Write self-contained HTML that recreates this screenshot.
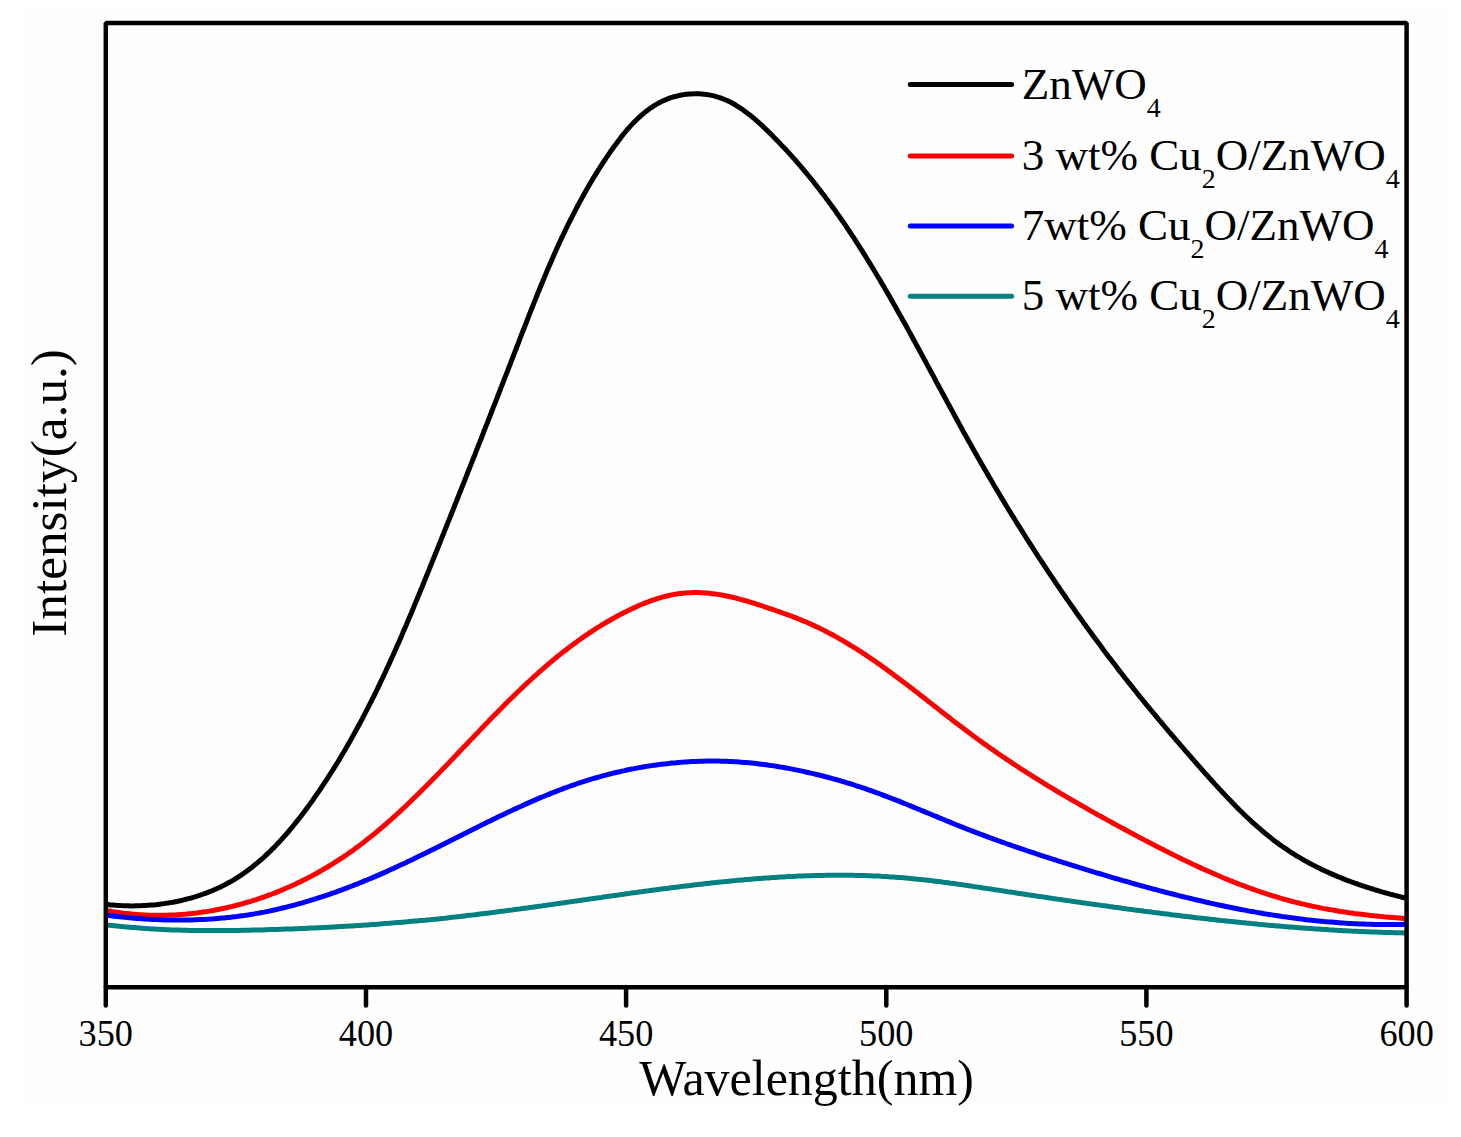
<!DOCTYPE html>
<html><head><meta charset="utf-8"><style>
html,body{margin:0;padding:0;background:#ffffff;}
svg{display:block;}
text{font-family:"Liberation Serif",serif;fill:#000;white-space:pre;}
</style></head><body>
<svg width="1461" height="1137" viewBox="0 0 1461 1137">
<rect x="26" y="8" width="1422" height="1100" fill="#fefefe"/>
<path d="M105.8,904.4 L108.1,904.6 L110.6,904.9 L113.1,905.1 L115.6,905.3 L118.1,905.4 L120.6,905.6 L123.1,905.7 L125.6,905.8 L128.1,905.8 L130.6,905.9 L133.1,905.9 L135.6,905.8 L138.1,905.8 L140.6,905.7 L143.1,905.6 L145.6,905.5 L148.1,905.3 L150.6,905.1 L153.1,904.9 L155.6,904.7 L158.1,904.4 L160.6,904.1 L163.1,903.8 L165.5,903.4 L168.0,903.0 L170.5,902.6 L173.0,902.2 L175.4,901.7 L177.9,901.2 L180.3,900.7 L182.8,900.1 L185.2,899.5 L187.6,898.9 L190.0,898.3 L192.5,897.6 L194.9,896.9 L197.2,896.1 L199.6,895.4 L202.0,894.5 L204.4,893.7 L206.7,892.8 L209.0,891.9 L211.4,891.0 L213.7,890.0 L216.0,889.0 L218.3,888.0 L220.5,886.9 L222.8,885.8 L225.0,884.7 L227.2,883.5 L229.4,882.3 L231.6,881.1 L233.7,879.8 L235.9,878.5 L238.0,877.1 L240.1,875.8 L242.2,874.4 L244.2,873.0 L246.3,871.5 L248.3,870.0 L250.3,868.5 L252.3,867.0 L254.2,865.4 L256.2,863.8 L258.1,862.2 L260.0,860.6 L261.9,859.0 L263.8,857.3 L265.6,855.6 L267.4,853.9 L269.2,852.2 L271.0,850.4 L272.8,848.6 L274.6,846.9 L276.3,845.1 L278.0,843.2 L279.8,841.4 L281.4,839.6 L283.1,837.7 L284.8,835.8 L286.4,834.0 L288.1,832.1 L289.7,830.1 L291.3,828.2 L292.9,826.3 L294.5,824.3 L296.0,822.4 L297.6,820.4 L299.1,818.5 L300.7,816.5 L302.2,814.5 L303.7,812.5 L305.2,810.5 L306.7,808.5 L308.2,806.5 L309.7,804.4 L311.1,802.4 L312.6,800.4 L314.0,798.3 L315.5,796.3 L316.9,794.2 L318.3,792.1 L319.7,790.1 L321.1,788.0 L322.5,785.9 L323.9,783.8 L325.3,781.7 L326.7,779.6 L328.0,777.5 L329.4,775.4 L330.7,773.3 L332.1,771.2 L333.4,769.1 L334.7,767.0 L336.1,764.8 L337.4,762.7 L338.7,760.6 L340.0,758.4 L341.2,756.3 L342.5,754.1 L343.8,752.0 L345.1,749.8 L346.3,747.6 L347.6,745.5 L348.8,743.3 L350.1,741.1 L351.3,738.9 L352.5,736.7 L353.7,734.6 L354.9,732.4 L356.1,730.2 L357.3,728.0 L358.5,725.8 L359.7,723.6 L360.9,721.3 L362.1,719.1 L363.2,716.9 L364.4,714.7 L365.5,712.5 L366.7,710.2 L367.8,708.0 L369.0,705.8 L370.1,703.5 L371.2,701.3 L372.3,699.1 L373.5,696.8 L374.6,694.6 L375.7,692.3 L376.8,690.1 L377.9,687.8 L378.9,685.6 L380.0,683.3 L381.1,681.0 L382.2,678.8 L383.2,676.5 L384.3,674.3 L385.4,672.0 L386.4,669.7 L387.5,667.4 L388.5,665.2 L389.6,662.9 L390.6,660.6 L391.6,658.3 L392.7,656.0 L393.7,653.7 L394.7,651.5 L395.7,649.2 L396.7,646.9 L397.7,644.6 L398.8,642.3 L399.8,640.0 L400.8,637.7 L401.8,635.4 L402.7,633.1 L403.7,630.8 L404.7,628.5 L405.7,626.2 L406.7,623.9 L407.7,621.6 L408.6,619.3 L409.6,617.0 L410.6,614.7 L411.6,612.4 L412.5,610.0 L413.5,607.7 L414.4,605.4 L415.4,603.1 L416.4,600.8 L417.3,598.5 L418.3,596.2 L419.2,593.8 L420.2,591.5 L421.1,589.2 L422.1,586.9 L423.0,584.6 L424.0,582.2 L424.9,579.9 L425.8,577.6 L426.8,575.3 L427.7,573.0 L428.7,570.6 L429.6,568.3 L430.5,566.0 L431.5,563.7 L432.4,561.3 L433.3,559.0 L434.3,556.7 L435.2,554.4 L436.1,552.1 L437.1,549.7 L438.0,547.4 L438.9,545.1 L439.9,542.8 L440.8,540.4 L441.7,538.1 L442.7,535.8 L443.6,533.4 L444.5,531.1 L445.5,528.8 L446.4,526.5 L447.3,524.1 L448.2,521.8 L449.2,519.5 L450.1,517.2 L451.0,514.8 L451.9,512.5 L452.9,510.2 L453.8,507.9 L454.7,505.5 L455.6,503.2 L456.6,500.9 L457.5,498.5 L458.4,496.2 L459.3,493.9 L460.3,491.6 L461.2,489.2 L462.1,486.9 L463.0,484.6 L464.0,482.2 L464.9,479.9 L465.8,477.6 L466.7,475.3 L467.6,472.9 L468.5,470.6 L469.5,468.3 L470.4,465.9 L471.3,463.6 L472.2,461.3 L473.1,458.9 L474.1,456.6 L475.0,454.3 L475.9,451.9 L476.8,449.6 L477.7,447.3 L478.6,445.0 L479.6,442.6 L480.5,440.3 L481.4,438.0 L482.3,435.6 L483.2,433.3 L484.1,431.0 L485.0,428.6 L485.9,426.3 L486.9,424.0 L487.8,421.6 L488.7,419.3 L489.6,417.0 L490.5,414.6 L491.4,412.3 L492.3,410.0 L493.2,407.6 L494.1,405.3 L495.1,403.0 L496.0,400.6 L496.9,398.3 L497.8,396.0 L498.7,393.6 L499.6,391.3 L500.5,389.0 L501.4,386.6 L502.3,384.3 L503.2,382.0 L504.1,379.6 L505.0,377.3 L506.0,374.9 L506.9,372.6 L507.8,370.3 L508.7,367.9 L509.6,365.6 L510.5,363.3 L511.4,360.9 L512.3,358.6 L513.2,356.3 L514.1,353.9 L515.0,351.6 L515.9,349.3 L516.8,346.9 L517.7,344.6 L518.6,342.3 L519.5,339.9 L520.4,337.6 L521.3,335.2 L522.2,332.9 L523.1,330.6 L524.1,328.2 L525.0,325.9 L525.9,323.6 L526.8,321.2 L527.7,318.9 L528.6,316.6 L529.5,314.2 L530.4,311.9 L531.3,309.6 L532.3,307.2 L533.2,304.9 L534.1,302.6 L535.0,300.3 L536.0,297.9 L536.9,295.6 L537.8,293.3 L538.8,291.0 L539.7,288.6 L540.7,286.3 L541.6,284.0 L542.6,281.7 L543.5,279.4 L544.5,277.1 L545.5,274.7 L546.4,272.4 L547.4,270.1 L548.4,267.8 L549.4,265.5 L550.4,263.2 L551.4,260.9 L552.4,258.6 L553.4,256.3 L554.4,254.0 L555.4,251.8 L556.4,249.5 L557.4,247.2 L558.5,244.9 L559.5,242.6 L560.6,240.4 L561.6,238.1 L562.7,235.8 L563.8,233.6 L564.9,231.3 L565.9,229.0 L567.0,226.8 L568.1,224.5 L569.2,222.3 L570.4,220.0 L571.5,217.8 L572.6,215.6 L573.8,213.3 L574.9,211.1 L576.1,208.9 L577.2,206.7 L578.4,204.5 L579.6,202.3 L580.8,200.1 L582.0,197.9 L583.2,195.7 L584.4,193.5 L585.7,191.3 L586.9,189.1 L588.1,187.0 L589.4,184.8 L590.7,182.6 L592.0,180.5 L593.2,178.3 L594.5,176.2 L595.8,174.1 L597.2,171.9 L598.5,169.8 L599.8,167.7 L601.2,165.6 L602.5,163.5 L603.9,161.4 L605.3,159.3 L606.7,157.2 L608.1,155.1 L609.5,153.1 L610.9,151.0 L612.4,149.0 L613.8,146.9 L615.3,144.9 L616.8,142.9 L618.3,140.9 L619.8,138.9 L621.3,136.9 L622.9,134.9 L624.5,133.0 L626.1,131.0 L627.7,129.1 L629.3,127.3 L631.0,125.4 L632.7,123.6 L634.5,121.8 L636.3,120.0 L638.1,118.3 L639.9,116.6 L641.8,114.9 L643.7,113.3 L645.6,111.7 L647.6,110.2 L649.6,108.7 L651.7,107.3 L653.8,105.9 L655.9,104.6 L658.1,103.4 L660.3,102.2 L662.6,101.1 L664.8,100.1 L667.2,99.1 L669.5,98.2 L671.9,97.4 L674.3,96.7 L676.7,96.1 L679.1,95.5 L681.6,95.0 L684.1,94.6 L686.6,94.3 L689.0,94.0 L691.5,93.9 L694.1,93.8 L696.6,93.8 L699.1,93.8 L701.6,94.0 L704.1,94.2 L706.5,94.5 L709.0,94.9 L711.5,95.4 L713.9,95.9 L716.3,96.6 L718.7,97.3 L721.1,98.1 L723.4,99.0 L725.8,100.0 L728.0,101.0 L730.3,102.1 L732.5,103.3 L734.7,104.5 L736.8,105.8 L738.9,107.1 L741.0,108.5 L743.1,109.9 L745.1,111.4 L747.1,112.9 L749.1,114.4 L751.1,116.0 L753.0,117.6 L754.9,119.2 L756.8,120.9 L758.7,122.5 L760.5,124.2 L762.4,125.9 L764.2,127.6 L766.0,129.4 L767.8,131.1 L769.6,132.9 L771.4,134.6 L773.1,136.4 L774.9,138.2 L776.6,140.0 L778.4,141.8 L780.1,143.6 L781.8,145.4 L783.6,147.2 L785.3,149.0 L787.0,150.9 L788.7,152.7 L790.4,154.6 L792.0,156.4 L793.7,158.3 L795.4,160.2 L797.0,162.1 L798.7,164.0 L800.3,165.9 L801.9,167.8 L803.5,169.7 L805.1,171.6 L806.7,173.5 L808.3,175.5 L809.9,177.4 L811.5,179.3 L813.1,181.3 L814.6,183.3 L816.2,185.2 L817.7,187.2 L819.3,189.2 L820.8,191.2 L822.3,193.2 L823.8,195.1 L825.3,197.1 L826.8,199.2 L828.3,201.2 L829.8,203.2 L831.3,205.2 L832.7,207.2 L834.2,209.3 L835.7,211.3 L837.1,213.4 L838.6,215.4 L840.0,217.5 L841.4,219.5 L842.8,221.6 L844.3,223.6 L845.7,225.7 L847.1,227.8 L848.5,229.9 L849.9,232.0 L851.2,234.0 L852.6,236.1 L854.0,238.2 L855.4,240.3 L856.7,242.4 L858.1,244.5 L859.4,246.6 L860.8,248.8 L862.1,250.9 L863.4,253.0 L864.8,255.1 L866.1,257.2 L867.4,259.4 L868.7,261.5 L870.0,263.6 L871.3,265.8 L872.6,267.9 L873.9,270.1 L875.2,272.2 L876.5,274.4 L877.8,276.5 L879.1,278.7 L880.4,280.8 L881.6,283.0 L882.9,285.1 L884.2,287.3 L885.4,289.5 L886.7,291.6 L887.9,293.8 L889.2,296.0 L890.4,298.1 L891.7,300.3 L892.9,302.5 L894.2,304.7 L895.4,306.8 L896.6,309.0 L897.8,311.2 L899.1,313.4 L900.3,315.6 L901.5,317.8 L902.7,320.0 L904.0,322.1 L905.2,324.3 L906.4,326.5 L907.6,328.7 L908.8,330.9 L910.0,333.1 L911.2,335.3 L912.4,337.5 L913.6,339.7 L914.8,341.9 L916.0,344.1 L917.2,346.3 L918.4,348.5 L919.6,350.7 L920.8,352.9 L922.0,355.1 L923.2,357.3 L924.4,359.5 L925.6,361.7 L926.7,363.9 L927.9,366.1 L929.1,368.3 L930.3,370.5 L931.5,372.7 L932.7,374.9 L933.9,377.2 L935.1,379.4 L936.2,381.6 L937.4,383.8 L938.6,386.0 L939.8,388.2 L941.0,390.4 L942.2,392.6 L943.4,394.8 L944.6,397.0 L945.8,399.2 L946.9,401.4 L948.1,403.6 L949.3,405.8 L950.5,408.0 L951.7,410.2 L952.9,412.4 L954.1,414.6 L955.3,416.8 L956.5,419.0 L957.7,421.2 L958.9,423.4 L960.1,425.6 L961.3,427.8 L962.5,430.0 L963.7,432.2 L965.0,434.4 L966.2,436.6 L967.4,438.8 L968.6,440.9 L969.8,443.1 L971.1,445.3 L972.3,447.5 L973.5,449.7 L974.7,451.9 L976.0,454.0 L977.2,456.2 L978.5,458.4 L979.7,460.6 L980.9,462.7 L982.2,464.9 L983.4,467.1 L984.7,469.3 L986.0,471.4 L987.2,473.6 L988.5,475.8 L989.7,477.9 L991.0,480.1 L992.3,482.2 L993.5,484.4 L994.8,486.6 L996.1,488.7 L997.4,490.9 L998.7,493.0 L1000.0,495.2 L1001.2,497.3 L1002.5,499.5 L1003.8,501.6 L1005.1,503.7 L1006.4,505.9 L1007.7,508.0 L1009.0,510.2 L1010.3,512.3 L1011.6,514.4 L1013.0,516.6 L1014.3,518.7 L1015.6,520.8 L1016.9,523.0 L1018.2,525.1 L1019.6,527.2 L1020.9,529.3 L1022.2,531.4 L1023.6,533.6 L1024.9,535.7 L1026.2,537.8 L1027.6,539.9 L1028.9,542.0 L1030.3,544.1 L1031.6,546.2 L1033.0,548.3 L1034.4,550.5 L1035.7,552.6 L1037.1,554.7 L1038.4,556.8 L1039.8,558.9 L1041.2,560.9 L1042.6,563.0 L1043.9,565.1 L1045.3,567.2 L1046.7,569.3 L1048.1,571.4 L1049.5,573.5 L1050.9,575.6 L1052.3,577.6 L1053.7,579.7 L1055.1,581.8 L1056.5,583.9 L1057.9,585.9 L1059.3,588.0 L1060.7,590.1 L1062.1,592.1 L1063.5,594.2 L1065.0,596.3 L1066.4,598.3 L1067.8,600.4 L1069.2,602.4 L1070.7,604.5 L1072.1,606.6 L1073.6,608.6 L1075.0,610.7 L1076.4,612.7 L1077.9,614.7 L1079.3,616.8 L1080.8,618.8 L1082.3,620.9 L1083.7,622.9 L1085.2,624.9 L1086.6,627.0 L1088.1,629.0 L1089.6,631.0 L1091.1,633.0 L1092.5,635.1 L1094.0,637.1 L1095.5,639.1 L1097.0,641.1 L1098.5,643.1 L1100.0,645.1 L1101.5,647.1 L1103.0,649.2 L1104.5,651.2 L1106.0,653.2 L1107.5,655.2 L1109.0,657.2 L1110.5,659.1 L1112.0,661.1 L1113.6,663.1 L1115.1,665.1 L1116.6,667.1 L1118.1,669.1 L1119.7,671.1 L1121.2,673.0 L1122.8,675.0 L1124.3,677.0 L1125.8,679.0 L1127.4,680.9 L1128.9,682.9 L1130.5,684.9 L1132.1,686.8 L1133.6,688.8 L1135.2,690.7 L1136.8,692.7 L1138.3,694.6 L1139.9,696.6 L1141.5,698.5 L1143.1,700.5 L1144.6,702.4 L1146.2,704.4 L1147.8,706.3 L1149.4,708.2 L1151.0,710.2 L1152.6,712.1 L1154.2,714.0 L1155.8,715.9 L1157.4,717.9 L1159.0,719.8 L1160.6,721.7 L1162.2,723.6 L1163.8,725.5 L1165.5,727.5 L1167.1,729.4 L1168.7,731.3 L1170.3,733.2 L1171.9,735.1 L1173.6,737.0 L1175.2,738.9 L1176.8,740.8 L1178.5,742.7 L1180.1,744.6 L1181.7,746.5 L1183.4,748.4 L1185.0,750.3 L1186.7,752.2 L1188.3,754.1 L1190.0,755.9 L1191.6,757.8 L1193.2,759.7 L1194.9,761.6 L1196.6,763.5 L1198.2,765.4 L1199.9,767.2 L1201.5,769.1 L1203.2,771.0 L1204.8,772.9 L1206.5,774.7 L1208.2,776.6 L1209.8,778.5 L1211.5,780.3 L1213.2,782.2 L1214.9,784.1 L1216.6,785.9 L1218.3,787.8 L1220.0,789.6 L1221.7,791.4 L1223.4,793.3 L1225.1,795.1 L1226.8,796.9 L1228.5,798.7 L1230.3,800.5 L1232.0,802.3 L1233.7,804.1 L1235.5,805.9 L1237.3,807.7 L1239.0,809.5 L1240.8,811.2 L1242.6,813.0 L1244.4,814.7 L1246.2,816.5 L1248.0,818.2 L1249.9,819.9 L1251.7,821.6 L1253.6,823.3 L1255.4,824.9 L1257.3,826.6 L1259.2,828.2 L1261.1,829.9 L1263.0,831.5 L1264.9,833.1 L1266.9,834.7 L1268.8,836.3 L1270.8,837.8 L1272.7,839.4 L1274.7,840.9 L1276.7,842.4 L1278.8,843.9 L1280.8,845.4 L1282.8,846.8 L1284.9,848.2 L1287.0,849.6 L1289.0,851.0 L1291.1,852.4 L1293.2,853.7 L1295.4,855.1 L1297.5,856.4 L1299.7,857.7 L1301.8,858.9 L1304.0,860.2 L1306.2,861.4 L1308.4,862.6 L1310.6,863.8 L1312.8,864.9 L1315.0,866.1 L1317.3,867.2 L1319.5,868.3 L1321.8,869.4 L1324.0,870.5 L1326.3,871.5 L1328.6,872.6 L1330.9,873.6 L1333.2,874.6 L1335.5,875.6 L1337.8,876.6 L1340.1,877.5 L1342.4,878.4 L1344.7,879.4 L1347.1,880.3 L1349.4,881.2 L1351.8,882.0 L1354.1,882.9 L1356.5,883.7 L1358.9,884.6 L1361.2,885.4 L1363.6,886.2 L1366.0,887.0 L1368.4,887.7 L1370.7,888.5 L1373.1,889.2 L1375.5,890.0 L1377.9,890.7 L1380.3,891.4 L1382.7,892.1 L1385.2,892.8 L1387.6,893.4 L1390.0,894.1 L1392.4,894.7 L1394.8,895.4 L1397.3,896.0 L1399.7,896.6 L1402.1,897.2 L1404.6,897.8 L1406.6,898.3" fill="none" stroke="#000000" stroke-width="5.0" stroke-linejoin="round" stroke-linecap="butt"/>
<path d="M105.8,910.4 L107.0,910.6 L109.5,911.0 L112.0,911.5 L114.5,911.9 L116.9,912.3 L119.4,912.6 L121.9,912.9 L124.4,913.3 L126.9,913.5 L129.4,913.8 L131.9,914.1 L134.4,914.3 L136.9,914.5 L139.4,914.7 L141.9,914.8 L144.4,915.0 L146.9,915.1 L149.4,915.2 L151.9,915.2 L154.4,915.3 L156.9,915.3 L159.4,915.3 L161.9,915.3 L164.4,915.2 L166.9,915.2 L169.4,915.1 L171.9,915.0 L174.4,914.9 L176.9,914.7 L179.4,914.6 L181.9,914.4 L184.4,914.2 L186.9,914.0 L189.4,913.7 L191.9,913.5 L194.4,913.2 L196.9,912.9 L199.4,912.5 L201.9,912.2 L204.3,911.8 L206.8,911.5 L209.3,911.1 L211.8,910.6 L214.2,910.2 L216.7,909.7 L219.2,909.2 L221.6,908.7 L224.1,908.2 L226.5,907.7 L229.0,907.1 L231.4,906.6 L233.8,906.0 L236.3,905.3 L238.7,904.7 L241.1,904.1 L243.5,903.4 L245.9,902.7 L248.3,902.0 L250.7,901.3 L253.1,900.5 L255.5,899.8 L257.9,899.0 L260.3,898.2 L262.7,897.4 L265.0,896.6 L267.4,895.7 L269.7,894.8 L272.1,894.0 L274.4,893.1 L276.8,892.1 L279.1,891.2 L281.4,890.2 L283.7,889.3 L286.0,888.3 L288.3,887.3 L290.6,886.3 L292.9,885.2 L295.2,884.2 L297.4,883.1 L299.7,882.0 L301.9,880.9 L304.2,879.8 L306.4,878.7 L308.6,877.5 L310.9,876.4 L313.1,875.2 L315.3,874.0 L317.5,872.8 L319.7,871.5 L321.8,870.3 L324.0,869.0 L326.2,867.8 L328.3,866.5 L330.5,865.2 L332.6,863.9 L334.7,862.5 L336.8,861.2 L338.9,859.8 L341.0,858.5 L343.1,857.1 L345.2,855.7 L347.3,854.2 L349.3,852.8 L351.4,851.4 L353.4,849.9 L355.4,848.4 L357.5,846.9 L359.5,845.5 L361.5,843.9 L363.5,842.4 L365.4,840.9 L367.4,839.3 L369.4,837.8 L371.3,836.2 L373.3,834.6 L375.2,833.1 L377.2,831.5 L379.1,829.9 L381.0,828.2 L382.9,826.6 L384.8,825.0 L386.7,823.3 L388.6,821.7 L390.5,820.0 L392.3,818.4 L394.2,816.7 L396.1,815.0 L397.9,813.3 L399.8,811.6 L401.6,809.9 L403.4,808.2 L405.3,806.5 L407.1,804.8 L408.9,803.0 L410.7,801.3 L412.5,799.6 L414.3,797.8 L416.1,796.1 L417.9,794.3 L419.7,792.6 L421.5,790.8 L423.2,789.0 L425.0,787.2 L426.8,785.5 L428.5,783.7 L430.3,781.9 L432.1,780.1 L433.8,778.3 L435.6,776.5 L437.3,774.7 L439.1,772.9 L440.8,771.1 L442.5,769.3 L444.3,767.5 L446.0,765.7 L447.8,763.9 L449.5,762.1 L451.2,760.3 L453.0,758.5 L454.7,756.7 L456.4,754.9 L458.1,753.0 L459.9,751.2 L461.6,749.4 L463.3,747.6 L465.1,745.8 L466.8,744.0 L468.5,742.1 L470.2,740.3 L472.0,738.5 L473.7,736.7 L475.4,734.9 L477.2,733.1 L478.9,731.3 L480.6,729.4 L482.4,727.6 L484.1,725.8 L485.8,724.0 L487.6,722.2 L489.3,720.4 L491.1,718.6 L492.8,716.8 L494.6,715.0 L496.3,713.2 L498.1,711.5 L499.8,709.7 L501.6,707.9 L503.4,706.1 L505.1,704.3 L506.9,702.6 L508.7,700.8 L510.5,699.0 L512.3,697.3 L514.1,695.5 L515.9,693.8 L517.7,692.0 L519.5,690.3 L521.3,688.6 L523.1,686.9 L524.9,685.1 L526.8,683.4 L528.6,681.7 L530.4,680.0 L532.3,678.3 L534.1,676.6 L536.0,675.0 L537.9,673.3 L539.7,671.6 L541.6,670.0 L543.5,668.3 L545.4,666.7 L547.3,665.0 L549.2,663.4 L551.1,661.8 L553.1,660.2 L555.0,658.6 L556.9,657.0 L558.9,655.4 L560.8,653.9 L562.8,652.3 L564.8,650.8 L566.8,649.2 L568.7,647.7 L570.7,646.2 L572.8,644.7 L574.8,643.2 L576.8,641.7 L578.8,640.3 L580.9,638.8 L582.9,637.4 L585.0,635.9 L587.1,634.5 L589.1,633.1 L591.2,631.8 L593.3,630.4 L595.4,629.0 L597.5,627.7 L599.7,626.4 L601.8,625.0 L604.0,623.7 L606.1,622.5 L608.3,621.2 L610.5,620.0 L612.6,618.7 L614.8,617.5 L617.0,616.3 L619.2,615.1 L621.5,614.0 L623.7,612.8 L625.9,611.7 L628.2,610.6 L630.4,609.5 L632.7,608.4 L635.0,607.4 L637.3,606.3 L639.5,605.3 L641.9,604.3 L644.2,603.4 L646.5,602.4 L648.8,601.6 L651.2,600.7 L653.6,599.9 L655.9,599.1 L658.3,598.3 L660.7,597.6 L663.1,596.9 L665.6,596.3 L668.0,595.7 L670.4,595.1 L672.9,594.6 L675.4,594.2 L677.8,593.8 L680.3,593.5 L682.8,593.2 L685.3,593.0 L687.8,592.8 L690.3,592.7 L692.8,592.6 L695.3,592.6 L697.8,592.6 L700.3,592.7 L702.8,592.8 L705.3,592.9 L707.8,593.1 L710.3,593.4 L712.8,593.7 L715.3,594.0 L717.8,594.4 L720.3,594.8 L722.7,595.2 L725.2,595.7 L727.7,596.2 L730.1,596.7 L732.5,597.3 L735.0,597.9 L737.4,598.5 L739.8,599.1 L742.3,599.8 L744.7,600.5 L747.1,601.2 L749.5,601.9 L751.9,602.6 L754.3,603.4 L756.7,604.1 L759.0,604.9 L761.4,605.7 L763.8,606.5 L766.2,607.3 L768.6,608.1 L770.9,608.9 L773.3,609.7 L775.7,610.5 L778.0,611.3 L780.4,612.1 L782.8,613.0 L785.1,613.8 L787.5,614.7 L789.8,615.5 L792.2,616.4 L794.5,617.3 L796.9,618.2 L799.2,619.2 L801.5,620.1 L803.8,621.1 L806.1,622.0 L808.4,623.0 L810.7,624.1 L813.0,625.1 L815.3,626.2 L817.5,627.2 L819.8,628.3 L822.1,629.4 L824.3,630.6 L826.5,631.7 L828.7,632.9 L831.0,634.0 L833.2,635.2 L835.4,636.4 L837.6,637.6 L839.7,638.9 L841.9,640.1 L844.1,641.4 L846.2,642.7 L848.4,644.0 L850.5,645.3 L852.7,646.6 L854.8,647.9 L856.9,649.2 L859.0,650.6 L861.1,651.9 L863.2,653.3 L865.3,654.7 L867.4,656.1 L869.5,657.5 L871.6,658.9 L873.6,660.3 L875.7,661.7 L877.7,663.2 L879.8,664.6 L881.8,666.1 L883.9,667.5 L885.9,669.0 L887.9,670.5 L890.0,671.9 L892.0,673.4 L894.0,674.9 L896.0,676.4 L898.0,677.9 L900.0,679.4 L902.0,680.9 L904.0,682.4 L906.0,684.0 L908.0,685.5 L910.0,687.0 L912.0,688.5 L914.0,690.1 L915.9,691.6 L917.9,693.1 L919.9,694.7 L921.9,696.2 L923.9,697.8 L925.8,699.3 L927.8,700.9 L929.8,702.4 L931.7,703.9 L933.7,705.5 L935.7,707.0 L937.7,708.6 L939.6,710.1 L941.6,711.7 L943.6,713.2 L945.6,714.8 L947.6,716.3 L949.5,717.8 L951.5,719.4 L953.5,720.9 L955.5,722.4 L957.5,723.9 L959.5,725.5 L961.5,727.0 L963.5,728.5 L965.5,730.0 L967.5,731.5 L969.5,733.0 L971.5,734.5 L973.5,736.0 L975.5,737.5 L977.5,739.0 L979.6,740.5 L981.6,741.9 L983.6,743.4 L985.7,744.8 L987.7,746.3 L989.8,747.7 L991.8,749.2 L993.9,750.6 L995.9,752.0 L998.0,753.5 L1000.1,754.9 L1002.1,756.3 L1004.2,757.7 L1006.3,759.1 L1008.4,760.5 L1010.5,761.9 L1012.5,763.3 L1014.6,764.6 L1016.7,766.0 L1018.8,767.4 L1020.9,768.8 L1023.0,770.1 L1025.1,771.5 L1027.3,772.8 L1029.4,774.2 L1031.5,775.5 L1033.6,776.9 L1035.7,778.2 L1037.9,779.5 L1040.0,780.8 L1042.1,782.2 L1044.3,783.5 L1046.4,784.8 L1048.5,786.1 L1050.7,787.4 L1052.8,788.7 L1055.0,790.0 L1057.1,791.3 L1059.3,792.6 L1061.4,793.8 L1063.6,795.1 L1065.7,796.4 L1067.9,797.7 L1070.1,798.9 L1072.2,800.2 L1074.4,801.4 L1076.6,802.7 L1078.7,803.9 L1080.9,805.2 L1083.1,806.4 L1085.3,807.7 L1087.4,808.9 L1089.6,810.2 L1091.8,811.4 L1094.0,812.6 L1096.2,813.8 L1098.4,815.1 L1100.6,816.3 L1102.8,817.5 L1104.9,818.7 L1107.1,819.9 L1109.3,821.1 L1111.5,822.3 L1113.7,823.5 L1115.9,824.7 L1118.1,825.9 L1120.3,827.1 L1122.6,828.3 L1124.8,829.5 L1127.0,830.7 L1129.2,831.9 L1131.4,833.1 L1133.6,834.2 L1135.8,835.4 L1138.0,836.6 L1140.2,837.8 L1142.5,838.9 L1144.7,840.1 L1146.9,841.3 L1149.1,842.4 L1151.3,843.6 L1153.6,844.7 L1155.8,845.9 L1158.0,847.0 L1160.2,848.2 L1162.5,849.3 L1164.7,850.5 L1167.0,851.6 L1169.2,852.7 L1171.4,853.8 L1173.7,854.9 L1175.9,856.1 L1178.2,857.2 L1180.4,858.3 L1182.7,859.4 L1184.9,860.5 L1187.2,861.5 L1189.5,862.6 L1191.7,863.7 L1194.0,864.8 L1196.3,865.8 L1198.5,866.9 L1200.8,867.9 L1203.1,869.0 L1205.4,870.0 L1207.7,871.0 L1210.0,872.0 L1212.3,873.0 L1214.6,874.0 L1216.9,875.0 L1219.2,876.0 L1221.5,877.0 L1223.8,878.0 L1226.1,878.9 L1228.4,879.9 L1230.7,880.8 L1233.1,881.7 L1235.4,882.7 L1237.7,883.6 L1240.1,884.5 L1242.4,885.4 L1244.8,886.2 L1247.1,887.1 L1249.5,888.0 L1251.8,888.8 L1254.2,889.7 L1256.6,890.5 L1258.9,891.3 L1261.3,892.1 L1263.7,892.9 L1266.1,893.7 L1268.4,894.5 L1270.8,895.2 L1273.2,896.0 L1275.6,896.7 L1278.0,897.4 L1280.4,898.1 L1282.8,898.8 L1285.3,899.5 L1287.7,900.2 L1290.1,900.8 L1292.5,901.5 L1294.9,902.1 L1297.4,902.7 L1299.8,903.3 L1302.2,903.9 L1304.7,904.4 L1307.1,905.0 L1309.6,905.5 L1312.0,906.1 L1314.5,906.6 L1316.9,907.1 L1319.4,907.6 L1321.8,908.1 L1324.3,908.6 L1326.8,909.0 L1329.2,909.5 L1331.7,909.9 L1334.2,910.3 L1336.7,910.8 L1339.1,911.2 L1341.6,911.6 L1344.1,911.9 L1346.6,912.3 L1349.0,912.7 L1351.5,913.0 L1354.0,913.4 L1356.5,913.7 L1359.0,914.0 L1361.5,914.3 L1363.9,914.6 L1366.4,914.9 L1368.9,915.2 L1371.4,915.5 L1373.9,915.8 L1376.4,916.0 L1378.9,916.3 L1381.4,916.5 L1383.9,916.8 L1386.4,917.0 L1388.9,917.2 L1391.4,917.4 L1393.9,917.6 L1396.4,917.8 L1398.9,918.0 L1401.4,918.2 L1403.9,918.4 L1406.4,918.5 L1406.6,918.5" fill="none" stroke="#ff0000" stroke-width="5.0" stroke-linejoin="round" stroke-linecap="butt"/>
<path d="M105.8,915.1 L107.2,915.3 L109.7,915.6 L112.1,915.9 L114.6,916.2 L117.1,916.5 L119.6,916.8 L122.1,917.0 L124.6,917.3 L127.1,917.5 L129.6,917.8 L132.1,918.0 L134.6,918.2 L137.1,918.4 L139.6,918.6 L142.1,918.8 L144.6,918.9 L147.1,919.1 L149.6,919.2 L152.1,919.4 L154.6,919.5 L157.1,919.6 L159.6,919.7 L162.1,919.8 L164.6,919.9 L167.1,919.9 L169.6,920.0 L172.1,920.0 L174.6,920.0 L177.1,920.1 L179.6,920.1 L182.1,920.0 L184.6,920.0 L187.1,920.0 L189.6,919.9 L192.1,919.9 L194.6,919.8 L197.1,919.7 L199.6,919.6 L202.1,919.5 L204.6,919.4 L207.1,919.2 L209.6,919.1 L212.1,918.9 L214.6,918.7 L217.1,918.5 L219.6,918.3 L222.1,918.1 L224.6,917.9 L227.1,917.6 L229.6,917.4 L232.1,917.1 L234.6,916.8 L237.1,916.5 L239.5,916.1 L242.0,915.8 L244.5,915.5 L247.0,915.1 L249.5,914.7 L251.9,914.3 L254.4,913.9 L256.9,913.4 L259.3,913.0 L261.8,912.5 L264.3,912.1 L266.7,911.6 L269.2,911.1 L271.6,910.5 L274.1,910.0 L276.5,909.5 L278.9,908.9 L281.4,908.3 L283.8,907.7 L286.3,907.1 L288.7,906.5 L291.1,905.9 L293.5,905.3 L295.9,904.6 L298.4,903.9 L300.8,903.3 L303.2,902.6 L305.6,901.9 L308.0,901.2 L310.4,900.4 L312.8,899.7 L315.2,899.0 L317.6,898.2 L319.9,897.4 L322.3,896.7 L324.7,895.9 L327.1,895.1 L329.4,894.3 L331.8,893.4 L334.2,892.6 L336.5,891.8 L338.9,890.9 L341.2,890.1 L343.6,889.2 L345.9,888.3 L348.3,887.4 L350.6,886.5 L352.9,885.6 L355.3,884.7 L357.6,883.8 L359.9,882.8 L362.3,881.9 L364.6,880.9 L366.9,880.0 L369.2,879.0 L371.5,878.1 L373.8,877.1 L376.1,876.1 L378.4,875.1 L380.7,874.1 L383.0,873.1 L385.3,872.1 L387.6,871.1 L389.9,870.0 L392.1,869.0 L394.4,867.9 L396.7,866.9 L399.0,865.8 L401.2,864.8 L403.5,863.7 L405.8,862.7 L408.0,861.6 L410.3,860.5 L412.6,859.4 L414.8,858.3 L417.1,857.2 L419.3,856.1 L421.6,855.0 L423.8,853.9 L426.1,852.8 L428.3,851.7 L430.6,850.6 L432.8,849.5 L435.0,848.4 L437.3,847.3 L439.5,846.2 L441.8,845.0 L444.0,843.9 L446.2,842.8 L448.5,841.7 L450.7,840.5 L453.0,839.4 L455.2,838.3 L457.4,837.2 L459.7,836.0 L461.9,834.9 L464.1,833.8 L466.4,832.7 L468.6,831.5 L470.9,830.4 L473.1,829.3 L475.3,828.2 L477.6,827.1 L479.8,825.9 L482.1,824.8 L484.3,823.7 L486.6,822.6 L488.8,821.5 L491.1,820.4 L493.3,819.3 L495.6,818.2 L497.8,817.1 L500.1,816.0 L502.3,815.0 L504.6,813.9 L506.9,812.8 L509.1,811.7 L511.4,810.7 L513.7,809.6 L515.9,808.6 L518.2,807.5 L520.5,806.5 L522.8,805.4 L525.1,804.4 L527.4,803.4 L529.6,802.4 L531.9,801.4 L534.2,800.4 L536.5,799.4 L538.8,798.4 L541.1,797.4 L543.5,796.5 L545.8,795.5 L548.1,794.6 L550.4,793.6 L552.7,792.7 L555.1,791.8 L557.4,790.9 L559.8,790.0 L562.1,789.1 L564.4,788.2 L566.8,787.4 L569.1,786.5 L571.5,785.7 L573.9,784.9 L576.2,784.0 L578.6,783.2 L581.0,782.4 L583.4,781.7 L585.8,780.9 L588.1,780.2 L590.5,779.4 L592.9,778.7 L595.3,778.0 L597.7,777.3 L600.2,776.6 L602.6,775.9 L605.0,775.3 L607.4,774.6 L609.8,774.0 L612.3,773.4 L614.7,772.8 L617.1,772.2 L619.6,771.7 L622.0,771.1 L624.5,770.6 L626.9,770.0 L629.4,769.5 L631.8,769.0 L634.3,768.6 L636.7,768.1 L639.2,767.6 L641.7,767.2 L644.1,766.8 L646.6,766.4 L649.1,766.0 L651.6,765.6 L654.0,765.2 L656.5,764.9 L659.0,764.6 L661.5,764.2 L664.0,763.9 L666.5,763.7 L668.9,763.4 L671.4,763.1 L673.9,762.9 L676.4,762.7 L678.9,762.4 L681.4,762.2 L683.9,762.1 L686.4,761.9 L688.9,761.7 L691.4,761.6 L693.9,761.5 L696.4,761.4 L698.9,761.3 L701.4,761.2 L703.9,761.2 L706.4,761.1 L708.9,761.1 L711.4,761.1 L714.0,761.1 L716.5,761.1 L719.0,761.1 L721.5,761.2 L724.0,761.2 L726.5,761.3 L729.0,761.4 L731.5,761.5 L734.0,761.7 L736.5,761.8 L739.0,762.0 L741.5,762.2 L744.0,762.4 L746.5,762.6 L749.0,762.8 L751.5,763.0 L753.9,763.3 L756.4,763.6 L758.9,763.9 L761.4,764.2 L763.9,764.5 L766.4,764.8 L768.9,765.2 L771.3,765.5 L773.8,765.9 L776.3,766.3 L778.8,766.7 L781.2,767.1 L783.7,767.5 L786.2,768.0 L788.6,768.4 L791.1,768.9 L793.5,769.4 L796.0,769.9 L798.5,770.4 L800.9,770.9 L803.4,771.4 L805.8,772.0 L808.2,772.5 L810.7,773.1 L813.1,773.6 L815.6,774.2 L818.0,774.8 L820.4,775.4 L822.9,776.0 L825.3,776.7 L827.7,777.3 L830.1,777.9 L832.5,778.6 L835.0,779.3 L837.4,779.9 L839.8,780.6 L842.2,781.3 L844.6,782.0 L847.0,782.8 L849.4,783.5 L851.8,784.2 L854.2,785.0 L856.5,785.8 L858.9,786.5 L861.3,787.3 L863.7,788.1 L866.0,788.9 L868.4,789.8 L870.8,790.6 L873.1,791.4 L875.5,792.3 L877.8,793.1 L880.2,794.0 L882.5,794.9 L884.9,795.8 L887.2,796.7 L889.6,797.6 L891.9,798.5 L894.2,799.4 L896.6,800.3 L898.9,801.2 L901.2,802.1 L903.5,803.1 L905.9,804.0 L908.2,805.0 L910.5,805.9 L912.8,806.9 L915.1,807.8 L917.4,808.8 L919.8,809.7 L922.1,810.7 L924.4,811.6 L926.7,812.6 L929.0,813.5 L931.3,814.5 L933.6,815.5 L936.0,816.4 L938.3,817.4 L940.6,818.3 L942.9,819.3 L945.2,820.2 L947.5,821.2 L949.9,822.1 L952.2,823.1 L954.5,824.0 L956.8,825.0 L959.1,825.9 L961.5,826.8 L963.8,827.7 L966.1,828.7 L968.5,829.6 L970.8,830.5 L973.1,831.4 L975.5,832.3 L977.8,833.2 L980.2,834.1 L982.5,834.9 L984.9,835.8 L987.2,836.7 L989.5,837.6 L991.9,838.4 L994.3,839.3 L996.6,840.1 L999.0,841.0 L1001.3,841.8 L1003.7,842.7 L1006.0,843.5 L1008.4,844.3 L1010.8,845.2 L1013.1,846.0 L1015.5,846.8 L1017.9,847.6 L1020.2,848.4 L1022.6,849.2 L1025.0,850.0 L1027.4,850.9 L1029.7,851.6 L1032.1,852.4 L1034.5,853.2 L1036.9,854.0 L1039.2,854.8 L1041.6,855.6 L1044.0,856.4 L1046.4,857.1 L1048.8,857.9 L1051.1,858.7 L1053.5,859.4 L1055.9,860.2 L1058.3,861.0 L1060.7,861.7 L1063.1,862.5 L1065.5,863.2 L1067.9,864.0 L1070.3,864.7 L1072.6,865.5 L1075.0,866.2 L1077.4,866.9 L1079.8,867.7 L1082.2,868.4 L1084.6,869.1 L1087.0,869.9 L1089.4,870.6 L1091.8,871.3 L1094.2,872.1 L1096.6,872.8 L1099.0,873.5 L1101.4,874.2 L1103.8,874.9 L1106.2,875.6 L1108.6,876.3 L1111.0,877.1 L1113.4,877.8 L1115.8,878.5 L1118.2,879.2 L1120.6,879.9 L1123.0,880.6 L1125.4,881.2 L1127.8,881.9 L1130.3,882.6 L1132.7,883.3 L1135.1,884.0 L1137.5,884.6 L1139.9,885.3 L1142.3,886.0 L1144.7,886.6 L1147.2,887.3 L1149.6,888.0 L1152.0,888.6 L1154.4,889.3 L1156.8,889.9 L1159.2,890.6 L1161.7,891.2 L1164.1,891.8 L1166.5,892.5 L1168.9,893.1 L1171.4,893.7 L1173.8,894.3 L1176.2,894.9 L1178.7,895.6 L1181.1,896.2 L1183.5,896.8 L1185.9,897.4 L1188.4,897.9 L1190.8,898.5 L1193.3,899.1 L1195.7,899.7 L1198.1,900.3 L1200.6,900.8 L1203.0,901.4 L1205.4,902.0 L1207.9,902.5 L1210.3,903.1 L1212.8,903.6 L1215.2,904.1 L1217.7,904.7 L1220.1,905.2 L1222.6,905.7 L1225.0,906.2 L1227.5,906.7 L1229.9,907.2 L1232.4,907.7 L1234.8,908.2 L1237.3,908.7 L1239.8,909.2 L1242.2,909.7 L1244.7,910.1 L1247.1,910.6 L1249.6,911.1 L1252.1,911.5 L1254.5,911.9 L1257.0,912.4 L1259.5,912.8 L1261.9,913.2 L1264.4,913.7 L1266.9,914.1 L1269.3,914.5 L1271.8,914.9 L1274.3,915.3 L1276.8,915.6 L1279.2,916.0 L1281.7,916.4 L1284.2,916.7 L1286.7,917.1 L1289.2,917.4 L1291.6,917.8 L1294.1,918.1 L1296.6,918.4 L1299.1,918.8 L1301.6,919.1 L1304.1,919.4 L1306.6,919.7 L1309.0,919.9 L1311.5,920.2 L1314.0,920.5 L1316.5,920.8 L1319.0,921.0 L1321.5,921.2 L1324.0,921.5 L1326.5,921.7 L1329.0,921.9 L1331.5,922.1 L1334.0,922.3 L1336.5,922.5 L1339.0,922.7 L1341.5,922.9 L1344.0,923.1 L1346.5,923.2 L1349.0,923.4 L1351.5,923.5 L1354.0,923.7 L1356.5,923.8 L1359.0,923.9 L1361.5,924.0 L1364.0,924.1 L1366.5,924.2 L1369.0,924.3 L1371.5,924.3 L1374.0,924.4 L1376.5,924.4 L1379.0,924.5 L1381.5,924.5 L1384.0,924.5 L1386.5,924.5 L1389.0,924.5 L1391.5,924.5 L1394.0,924.5 L1396.5,924.5 L1399.0,924.5 L1401.5,924.4 L1404.0,924.3 L1406.6,924.3 L1406.6,924.3" fill="none" stroke="#0000ff" stroke-width="5.0" stroke-linejoin="round" stroke-linecap="butt"/>
<path d="M105.8,924.7 L107.0,924.9 L109.5,925.2 L111.9,925.4 L114.4,925.7 L116.9,926.0 L119.4,926.3 L121.9,926.5 L124.4,926.8 L126.9,927.0 L129.4,927.2 L131.9,927.4 L134.4,927.6 L136.9,927.8 L139.4,928.0 L141.9,928.2 L144.4,928.4 L146.9,928.6 L149.4,928.7 L151.9,928.9 L154.4,929.0 L156.9,929.2 L159.4,929.3 L161.9,929.4 L164.4,929.6 L166.9,929.7 L169.4,929.8 L171.9,929.9 L174.4,930.0 L176.9,930.0 L179.5,930.1 L182.0,930.2 L184.5,930.3 L187.0,930.3 L189.5,930.4 L192.0,930.4 L194.5,930.5 L197.0,930.5 L199.5,930.5 L202.0,930.5 L204.5,930.6 L207.0,930.6 L209.5,930.6 L212.0,930.6 L214.5,930.6 L217.1,930.6 L219.6,930.6 L222.1,930.6 L224.6,930.6 L227.1,930.5 L229.6,930.5 L232.1,930.5 L234.6,930.4 L237.1,930.4 L239.6,930.4 L242.1,930.3 L244.6,930.3 L247.1,930.2 L249.6,930.2 L252.2,930.1 L254.7,930.1 L257.2,930.0 L259.7,929.9 L262.2,929.9 L264.7,929.8 L267.2,929.7 L269.7,929.6 L272.2,929.6 L274.7,929.5 L277.2,929.4 L279.7,929.3 L282.2,929.2 L284.7,929.1 L287.2,929.1 L289.7,929.0 L292.2,928.9 L294.7,928.8 L297.3,928.7 L299.8,928.6 L302.3,928.5 L304.8,928.4 L307.3,928.2 L309.8,928.1 L312.3,928.0 L314.8,927.9 L317.3,927.8 L319.8,927.7 L322.3,927.5 L324.8,927.4 L327.3,927.3 L329.8,927.2 L332.3,927.0 L334.8,926.9 L337.3,926.7 L339.8,926.6 L342.3,926.5 L344.8,926.3 L347.3,926.2 L349.8,926.0 L352.3,925.9 L354.8,925.7 L357.3,925.5 L359.8,925.4 L362.3,925.2 L364.8,925.0 L367.3,924.9 L369.8,924.7 L372.3,924.5 L374.8,924.4 L377.3,924.2 L379.8,924.0 L382.3,923.8 L384.8,923.6 L387.3,923.4 L389.8,923.2 L392.3,923.0 L394.8,922.8 L397.3,922.6 L399.8,922.4 L402.3,922.2 L404.8,922.0 L407.3,921.8 L409.8,921.5 L412.3,921.3 L414.8,921.1 L417.3,920.9 L419.8,920.6 L422.3,920.4 L424.8,920.2 L427.3,919.9 L429.8,919.7 L432.3,919.4 L434.8,919.2 L437.3,918.9 L439.8,918.7 L442.3,918.4 L444.8,918.2 L447.3,917.9 L449.8,917.6 L452.2,917.3 L454.7,917.1 L457.2,916.8 L459.7,916.5 L462.2,916.2 L464.7,915.9 L467.2,915.6 L469.7,915.3 L472.2,915.1 L474.7,914.8 L477.1,914.4 L479.6,914.1 L482.1,913.8 L484.6,913.5 L487.1,913.2 L489.6,912.9 L492.1,912.6 L494.6,912.3 L497.0,911.9 L499.5,911.6 L502.0,911.3 L504.5,911.0 L507.0,910.6 L509.5,910.3 L512.0,910.0 L514.4,909.6 L516.9,909.3 L519.4,909.0 L521.9,908.6 L524.4,908.3 L526.9,908.0 L529.3,907.6 L531.8,907.3 L534.3,906.9 L536.8,906.6 L539.3,906.2 L541.8,905.9 L544.2,905.5 L546.7,905.2 L549.2,904.8 L551.7,904.5 L554.2,904.1 L556.7,903.8 L559.1,903.4 L561.6,903.1 L564.1,902.7 L566.6,902.3 L569.1,902.0 L571.5,901.6 L574.0,901.3 L576.5,900.9 L579.0,900.6 L581.5,900.2 L584.0,899.8 L586.4,899.5 L588.9,899.1 L591.4,898.8 L593.9,898.4 L596.4,898.1 L598.8,897.7 L601.3,897.4 L603.8,897.0 L606.3,896.6 L608.8,896.3 L611.3,895.9 L613.7,895.6 L616.2,895.2 L618.7,894.9 L621.2,894.5 L623.7,894.2 L626.1,893.8 L628.6,893.5 L631.1,893.1 L633.6,892.8 L636.1,892.5 L638.6,892.1 L641.1,891.8 L643.5,891.4 L646.0,891.1 L648.5,890.8 L651.0,890.4 L653.5,890.1 L656.0,889.8 L658.4,889.4 L660.9,889.1 L663.4,888.8 L665.9,888.5 L668.4,888.2 L670.9,887.8 L673.4,887.5 L675.8,887.2 L678.3,886.9 L680.8,886.6 L683.3,886.3 L685.8,886.0 L688.3,885.7 L690.8,885.4 L693.3,885.1 L695.8,884.8 L698.3,884.5 L700.7,884.2 L703.2,883.9 L705.7,883.6 L708.2,883.4 L710.7,883.1 L713.2,882.8 L715.7,882.6 L718.2,882.3 L720.7,882.0 L723.2,881.8 L725.7,881.5 L728.2,881.3 L730.7,881.0 L733.2,880.8 L735.6,880.6 L738.1,880.3 L740.6,880.1 L743.1,879.9 L745.6,879.6 L748.1,879.4 L750.6,879.2 L753.1,879.0 L755.6,878.8 L758.1,878.6 L760.6,878.4 L763.1,878.2 L765.6,878.0 L768.1,877.9 L770.6,877.7 L773.1,877.5 L775.6,877.4 L778.1,877.2 L780.6,877.0 L783.1,876.9 L785.6,876.8 L788.1,876.6 L790.6,876.5 L793.2,876.4 L795.7,876.3 L798.2,876.1 L800.7,876.0 L803.2,875.9 L805.7,875.8 L808.2,875.7 L810.7,875.7 L813.2,875.6 L815.7,875.5 L818.2,875.5 L820.7,875.4 L823.2,875.4 L825.7,875.3 L828.2,875.3 L830.7,875.3 L833.2,875.2 L835.8,875.2 L838.3,875.2 L840.8,875.2 L843.3,875.2 L845.8,875.2 L848.3,875.3 L850.8,875.3 L853.3,875.3 L855.8,875.4 L858.3,875.4 L860.8,875.5 L863.3,875.6 L865.8,875.6 L868.3,875.7 L870.8,875.8 L873.3,875.9 L875.9,876.0 L878.4,876.1 L880.9,876.3 L883.4,876.4 L885.9,876.5 L888.4,876.7 L890.9,876.9 L893.4,877.0 L895.9,877.2 L898.4,877.4 L900.9,877.6 L903.4,877.8 L905.9,878.0 L908.4,878.2 L910.9,878.5 L913.4,878.7 L915.9,879.0 L918.3,879.2 L920.8,879.5 L923.3,879.8 L925.8,880.0 L928.3,880.3 L930.8,880.6 L933.3,880.9 L935.8,881.2 L938.3,881.5 L940.8,881.8 L943.2,882.2 L945.7,882.5 L948.2,882.8 L950.7,883.2 L953.2,883.5 L955.7,883.8 L958.1,884.2 L960.6,884.5 L963.1,884.9 L965.6,885.3 L968.1,885.6 L970.6,886.0 L973.0,886.4 L975.5,886.7 L978.0,887.1 L980.5,887.5 L982.9,887.9 L985.4,888.2 L987.9,888.6 L990.4,889.0 L992.9,889.4 L995.3,889.8 L997.8,890.1 L1000.3,890.5 L1002.8,890.9 L1005.2,891.3 L1007.7,891.7 L1010.2,892.0 L1012.7,892.4 L1015.2,892.8 L1017.6,893.2 L1020.1,893.6 L1022.6,893.9 L1025.1,894.3 L1027.6,894.7 L1030.0,895.1 L1032.5,895.4 L1035.0,895.8 L1037.5,896.2 L1040.0,896.5 L1042.4,896.9 L1044.9,897.3 L1047.4,897.6 L1049.9,898.0 L1052.4,898.4 L1054.8,898.7 L1057.3,899.1 L1059.8,899.5 L1062.3,899.8 L1064.8,900.2 L1067.2,900.5 L1069.7,900.9 L1072.2,901.3 L1074.7,901.6 L1077.2,902.0 L1079.6,902.3 L1082.1,902.7 L1084.6,903.0 L1087.1,903.4 L1089.6,903.7 L1092.1,904.1 L1094.5,904.4 L1097.0,904.8 L1099.5,905.1 L1102.0,905.5 L1104.5,905.8 L1107.0,906.1 L1109.4,906.5 L1111.9,906.8 L1114.4,907.2 L1116.9,907.5 L1119.4,907.8 L1121.9,908.2 L1124.3,908.5 L1126.8,908.9 L1129.3,909.2 L1131.8,909.5 L1134.3,909.9 L1136.8,910.2 L1139.3,910.5 L1141.7,910.8 L1144.2,911.2 L1146.7,911.5 L1149.2,911.8 L1151.7,912.1 L1154.2,912.5 L1156.7,912.8 L1159.1,913.1 L1161.6,913.4 L1164.1,913.7 L1166.6,914.0 L1169.1,914.3 L1171.6,914.7 L1174.1,915.0 L1176.6,915.3 L1179.0,915.6 L1181.5,915.9 L1184.0,916.2 L1186.5,916.5 L1189.0,916.8 L1191.5,917.1 L1194.0,917.4 L1196.5,917.7 L1199.0,917.9 L1201.5,918.2 L1203.9,918.5 L1206.4,918.8 L1208.9,919.1 L1211.4,919.4 L1213.9,919.6 L1216.4,919.9 L1218.9,920.2 L1221.4,920.5 L1223.9,920.7 L1226.4,921.0 L1228.9,921.3 L1231.4,921.5 L1233.8,921.8 L1236.3,922.1 L1238.8,922.3 L1241.3,922.6 L1243.8,922.8 L1246.3,923.1 L1248.8,923.3 L1251.3,923.6 L1253.8,923.8 L1256.3,924.0 L1258.8,924.3 L1261.3,924.5 L1263.8,924.7 L1266.3,925.0 L1268.8,925.2 L1271.3,925.4 L1273.8,925.6 L1276.3,925.9 L1278.8,926.1 L1281.3,926.3 L1283.8,926.5 L1286.3,926.7 L1288.8,926.9 L1291.3,927.1 L1293.8,927.3 L1296.3,927.5 L1298.8,927.7 L1301.3,927.9 L1303.8,928.1 L1306.3,928.3 L1308.8,928.5 L1311.3,928.6 L1313.8,928.8 L1316.3,929.0 L1318.8,929.1 L1321.3,929.3 L1323.8,929.5 L1326.3,929.6 L1328.8,929.8 L1331.3,929.9 L1333.8,930.1 L1336.3,930.2 L1338.8,930.4 L1341.3,930.5 L1343.8,930.7 L1346.3,930.8 L1348.8,930.9 L1351.3,931.1 L1353.8,931.2 L1356.3,931.3 L1358.8,931.4 L1361.3,931.5 L1363.8,931.6 L1366.3,931.7 L1368.8,931.8 L1371.3,931.9 L1373.8,932.0 L1376.3,932.1 L1378.9,932.2 L1381.4,932.3 L1383.9,932.4 L1386.4,932.5 L1388.9,932.5 L1391.4,932.6 L1393.9,932.7 L1396.4,932.7 L1398.9,932.8 L1401.4,932.8 L1403.9,932.9 L1406.4,932.9 L1406.6,932.9" fill="none" stroke="#008080" stroke-width="5.0" stroke-linejoin="round" stroke-linecap="butt"/>
<rect x="105.8" y="22.9" width="1300.8" height="964.4" fill="none" stroke="#000" stroke-width="4.5" stroke-linejoin="bevel"/>
<line x1="105.8" y1="987" x2="105.8" y2="1005.6" stroke="#000" stroke-width="4.5" stroke-linecap="round"/>
<line x1="366.0" y1="987" x2="366.0" y2="1005.6" stroke="#000" stroke-width="4.5" stroke-linecap="round"/>
<line x1="626.1" y1="987" x2="626.1" y2="1005.6" stroke="#000" stroke-width="4.5" stroke-linecap="round"/>
<line x1="886.3" y1="987" x2="886.3" y2="1005.6" stroke="#000" stroke-width="4.5" stroke-linecap="round"/>
<line x1="1146.4" y1="987" x2="1146.4" y2="1005.6" stroke="#000" stroke-width="4.5" stroke-linecap="round"/>
<line x1="1406.6" y1="987" x2="1406.6" y2="1005.6" stroke="#000" stroke-width="4.5" stroke-linecap="round"/>
<text transform="translate(105.8,1045.8) scale(0.955,1)" font-size="38" text-anchor="middle">350</text>
<text transform="translate(366.0,1045.8) scale(0.955,1)" font-size="38" text-anchor="middle">400</text>
<text transform="translate(626.1,1045.8) scale(0.955,1)" font-size="38" text-anchor="middle">450</text>
<text transform="translate(886.3,1045.8) scale(0.955,1)" font-size="38" text-anchor="middle">500</text>
<text transform="translate(1146.4,1045.8) scale(0.955,1)" font-size="38" text-anchor="middle">550</text>
<text transform="translate(1406.6,1045.8) scale(0.955,1)" font-size="38" text-anchor="middle">600</text>
<text x="639.2" y="1095.0" font-size="50">Wavelength(nm)</text>
<text transform="translate(65.9,636.8) rotate(-90)" x="0" y="0" font-size="51.3">Intensity(a.u.)</text>
<line x1="910.3" y1="84.6" x2="1011.6" y2="84.6" stroke="#000000" stroke-width="5.0" stroke-linecap="round"/>
<text x="1021.8" y="98.7" font-size="45"><tspan>ZnWO</tspan><tspan font-size="28" dy="17.8">4</tspan></text>
<line x1="910.3" y1="156.1" x2="1011.6" y2="156.1" stroke="#ff0000" stroke-width="5.0" stroke-linecap="round"/>
<text x="1021.8" y="169.8" font-size="45"><tspan>3 wt% Cu</tspan><tspan font-size="28" dy="17.8">2</tspan><tspan dy="-17.8">O/ZnWO</tspan><tspan font-size="28" dy="17.8">4</tspan></text>
<line x1="910.3" y1="225.9" x2="1011.6" y2="225.9" stroke="#0000ff" stroke-width="5.0" stroke-linecap="round"/>
<text x="1021.8" y="239.7" font-size="45"><tspan>7wt% Cu</tspan><tspan font-size="28" dy="17.8">2</tspan><tspan dy="-17.8">O/ZnWO</tspan><tspan font-size="28" dy="17.8">4</tspan></text>
<line x1="910.3" y1="296.2" x2="1011.6" y2="296.2" stroke="#008080" stroke-width="5.0" stroke-linecap="round"/>
<text x="1021.8" y="310.0" font-size="45"><tspan>5 wt% Cu</tspan><tspan font-size="28" dy="17.8">2</tspan><tspan dy="-17.8">O/ZnWO</tspan><tspan font-size="28" dy="17.8">4</tspan></text>
</svg>
</body></html>
